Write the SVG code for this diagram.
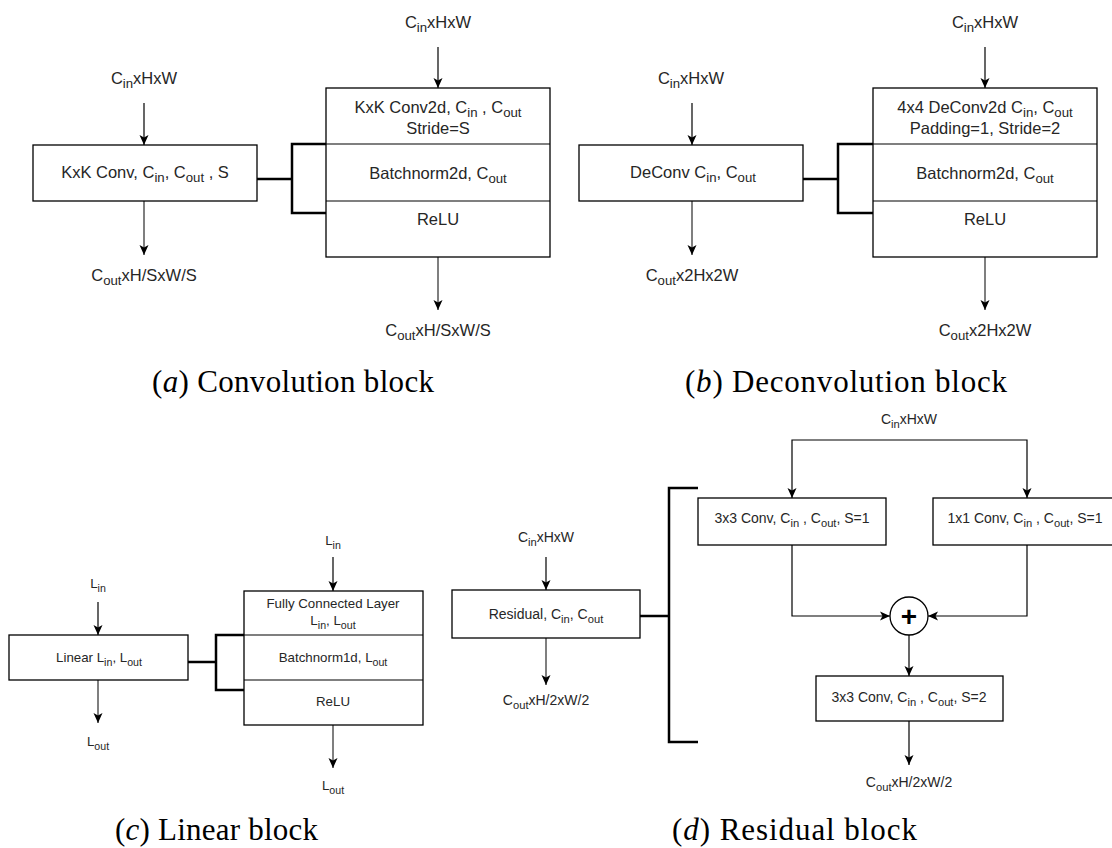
<svg xmlns="http://www.w3.org/2000/svg" width="1112" height="848" viewBox="0 0 1112 848">
<defs>
<marker id="ah" viewBox="0 0 10 10" refX="10" refY="5" markerWidth="10" markerHeight="10" markerUnits="userSpaceOnUse" orient="auto"><path d="M0,0.5 L10,5 L0,9.5 L2.5,5 z" fill="#000"/></marker>
<style>
.t{font-family:"Liberation Sans",Arial,sans-serif;fill:#262626;text-anchor:middle}
.a{font-size:16.5px}
.c{font-size:13.3px}
.d{font-size:14px}
.s{font-size:0.8em}
.box{fill:#fff;stroke:#000;stroke-width:1.3}
.ln{fill:none;stroke:#000;stroke-width:1.2}
.out{fill:none;stroke:#555;stroke-width:1.5}
.br{fill:none;stroke:#000;stroke-width:2.5}
.cap{font-family:"Liberation Serif","Times New Roman",serif;font-size:31px;fill:#000}
</style>
</defs>
<rect x="0" y="0" width="1112" height="848" fill="#fff"/>

<g id="connectors">
<line class="ln" x1="144" y1="103" x2="144" y2="145" marker-end="url(#ah)"/>
<line class="out" x1="144" y1="201" x2="144" y2="255" marker-end="url(#ah)"/>
<line class="ln" x1="438" y1="47" x2="438" y2="88" marker-end="url(#ah)"/>
<line class="out" x1="438" y1="257" x2="438" y2="310" marker-end="url(#ah)"/>
<path class="br" d="M257,179 H292 M326,144 H292 V213 H326"/>
<line class="ln" x1="692" y1="103" x2="692" y2="145" marker-end="url(#ah)"/>
<line class="out" x1="692" y1="201" x2="692" y2="255" marker-end="url(#ah)"/>
<line class="ln" x1="985" y1="47" x2="985" y2="88" marker-end="url(#ah)"/>
<line class="out" x1="985" y1="257" x2="985" y2="310" marker-end="url(#ah)"/>
<path class="br" d="M803,179 H838 M873,144 H838 V213 H873"/>
<line class="ln" x1="98" y1="602" x2="98" y2="635" marker-end="url(#ah)"/>
<line class="out" x1="98" y1="680" x2="98" y2="723" marker-end="url(#ah)"/>
<line class="ln" x1="333" y1="557" x2="333" y2="591" marker-end="url(#ah)"/>
<line class="out" x1="333" y1="725" x2="333" y2="768" marker-end="url(#ah)"/>
<path class="br" d="M188,662 H216 M244,635 H216 V690 H244"/>
<line class="ln" x1="546" y1="557" x2="546" y2="590" marker-end="url(#ah)"/>
<line class="out" x1="546" y1="638" x2="546" y2="685" marker-end="url(#ah)"/>
<path class="br" d="M640,616 H669 M698,488 H669 V742 H698"/>
<path class="ln" d="M909,440 H792 V498" marker-end="url(#ah)"/>
<path class="ln" d="M909,440 H1027 V498" marker-end="url(#ah)"/>
<path class="ln" d="M792,545 V616 H890" marker-end="url(#ah)"/>
<path class="ln" d="M1027,545 V616 H928" marker-end="url(#ah)"/>
<line class="ln" x1="909" y1="635" x2="909" y2="676" marker-end="url(#ah)"/>
<line class="ln" x1="909" y1="721" x2="909" y2="765" marker-end="url(#ah)"/>
</g>

<g id="panel-a">
<text class="t a" x="144" y="84">C<tspan class="s" dy="4">in</tspan><tspan dy="-4">xHxW</tspan></text>
<g id="a-conv">
<rect class="box" x="33" y="145" width="224" height="56"/>
<text class="t a" x="145" y="178">KxK Conv, C<tspan class="s" dy="4">in</tspan><tspan dy="-4">, C</tspan><tspan class="s" dy="4">out</tspan><tspan dy="-4"> , S</tspan></text>
</g>
<text class="t a" x="144" y="281">C<tspan class="s" dy="4">out</tspan><tspan dy="-4">xH/SxW/S</tspan></text>
<text class="t a" x="438" y="28">C<tspan class="s" dy="4">in</tspan><tspan dy="-4">xHxW</tspan></text>
<g id="a-stack">
<rect class="box" x="326" y="88" width="224" height="169"/>
<line class="ln" x1="326" y1="144" x2="550" y2="144"/>
<line class="ln" x1="326" y1="201" x2="550" y2="201"/>
<text class="t a" x="438" y="113">KxK Conv2d, C<tspan class="s" dy="3.5">in</tspan><tspan dy="-3.5"> , C</tspan><tspan class="s" dy="3.5">out</tspan></text>
<text class="t a" x="438" y="134">Stride=S</text>
<text class="t a" x="438" y="179">Batchnorm2d, C<tspan class="s" dy="4">out</tspan></text>
<text class="t a" x="438" y="225">ReLU</text>
</g>
<text class="t a" x="438" y="336">C<tspan class="s" dy="4">out</tspan><tspan dy="-4">xH/SxW/S</tspan></text>
</g>

<g id="panel-b">
<text class="t a" x="691" y="84">C<tspan class="s" dy="4">in</tspan><tspan dy="-4">xHxW</tspan></text>
<g id="b-deconv">
<rect class="box" x="579" y="145" width="224" height="56"/>
<text class="t a" x="693" y="178">DeConv C<tspan class="s" dy="4">in</tspan><tspan dy="-4">, C</tspan><tspan class="s" dy="4">out</tspan></text>
</g>
<text class="t a" x="692" y="281">C<tspan class="s" dy="4">out</tspan><tspan dy="-4">x2Hx2W</tspan></text>
<text class="t a" x="985" y="28">C<tspan class="s" dy="4">in</tspan><tspan dy="-4">xHxW</tspan></text>
<g id="b-stack">
<rect class="box" x="873" y="88" width="224" height="169"/>
<line class="ln" x1="873" y1="144" x2="1097" y2="144"/>
<line class="ln" x1="873" y1="201" x2="1097" y2="201"/>
<text class="t a" x="985" y="113">4x4 DeConv2d C<tspan class="s" dy="3.5">in</tspan><tspan dy="-3.5">, C</tspan><tspan class="s" dy="3.5">out</tspan></text>
<text class="t a" x="985" y="134">Padding=1, Stride=2</text>
<text class="t a" x="985" y="179">Batchnorm2d, C<tspan class="s" dy="4">out</tspan></text>
<text class="t a" x="985" y="225">ReLU</text>
</g>
<text class="t a" x="985" y="336">C<tspan class="s" dy="4">out</tspan><tspan dy="-4">x2Hx2W</tspan></text>
</g>

<g id="panel-c">
<text class="t c" x="98" y="588">L<tspan class="s" dy="3.5">in</tspan></text>
<g id="c-linear">
<rect class="box" x="9" y="635" width="179" height="45"/>
<text class="t c" x="99" y="662">Linear L<tspan class="s" dy="3.5">in</tspan><tspan dy="-3.5">, L</tspan><tspan class="s" dy="3.5">out</tspan></text>
</g>
<text class="t c" x="98" y="746">L<tspan class="s" dy="3.5">out</tspan></text>
<text class="t c" x="333" y="545">L<tspan class="s" dy="3.5">in</tspan></text>
<g id="c-stack">
<rect class="box" x="244" y="591" width="179" height="134"/>
<line class="ln" x1="244" y1="635" x2="423" y2="635"/>
<line class="ln" x1="244" y1="680" x2="423" y2="680"/>
<text class="t c" x="333" y="608">Fully Connected Layer</text>
<text class="t c" x="333" y="625">L<tspan class="s" dy="3.5">in</tspan><tspan dy="-3.5">, L</tspan><tspan class="s" dy="3.5">out</tspan></text>
<text class="t c" x="333" y="662">Batchnorm1d, L<tspan class="s" dy="3.5">out</tspan></text>
<text class="t c" x="333" y="706">ReLU</text>
</g>
<text class="t c" x="333" y="790">L<tspan class="s" dy="3.5">out</tspan></text>
</g>

<g id="panel-d">
<text class="t d" x="546" y="542">C<tspan class="s" dy="3.5">in</tspan><tspan dy="-3.5">xHxW</tspan></text>
<g id="d-residual">
<rect class="box" x="452" y="590" width="188" height="48"/>
<text class="t d" x="546" y="619">Residual, C<tspan class="s" dy="3.5">in</tspan><tspan dy="-3.5">, C</tspan><tspan class="s" dy="3.5">out</tspan></text>
</g>
<text class="t d" x="546" y="705">C<tspan class="s" dy="3.5">out</tspan><tspan dy="-3.5">xH/2xW/2</tspan></text>
<text class="t d" x="909" y="424">C<tspan class="s" dy="3.5">in</tspan><tspan dy="-3.5">xHxW</tspan></text>
<g id="d-conv3">
<rect class="box" x="698" y="498" width="188" height="47"/>
<text class="t d" x="792" y="523">3x3 Conv, C<tspan class="s" dy="3.5">in</tspan><tspan dy="-3.5"> , C</tspan><tspan class="s" dy="3.5">out</tspan><tspan dy="-3.5">, S=1</tspan></text>
</g>
<g id="d-conv1">
<rect class="box" x="933" y="498" width="188" height="47"/>
<text class="t d" x="1025" y="523">1x1 Conv, C<tspan class="s" dy="3.5">in</tspan><tspan dy="-3.5"> , C</tspan><tspan class="s" dy="3.5">out</tspan><tspan dy="-3.5">, S=1</tspan></text>
</g>
<g id="d-sum">
<circle cx="909" cy="616" r="19" fill="#fff" stroke="#000" stroke-width="1.3"/>
<text x="909" y="626" font-family="Liberation Sans, Arial, sans-serif" font-size="28" font-weight="bold" text-anchor="middle" fill="#000">+</text>
</g>
<g id="d-conv3s2">
<rect class="box" x="816" y="676" width="187" height="45"/>
<text class="t d" x="909" y="702">3x3 Conv, C<tspan class="s" dy="3.5">in</tspan><tspan dy="-3.5"> , C</tspan><tspan class="s" dy="3.5">out</tspan><tspan dy="-3.5">, S=2</tspan></text>
</g>
<text class="t d" x="909" y="787">C<tspan class="s" dy="3.5">out</tspan><tspan dy="-3.5">xH/2xW/2</tspan></text>
</g>

<g id="captions">
<text class="cap" x="152" y="392" textLength="282">(<tspan font-style="italic">a</tspan>) Convolution block</text>
<text class="cap" x="685" y="392" textLength="322">(<tspan font-style="italic">b</tspan>) Deconvolution block</text>
<text class="cap" x="115" y="840" textLength="203">(<tspan font-style="italic">c</tspan>) Linear block</text>
<text class="cap" x="672" y="840" textLength="245">(<tspan font-style="italic">d</tspan>) Residual block</text>
</g>
</svg>
